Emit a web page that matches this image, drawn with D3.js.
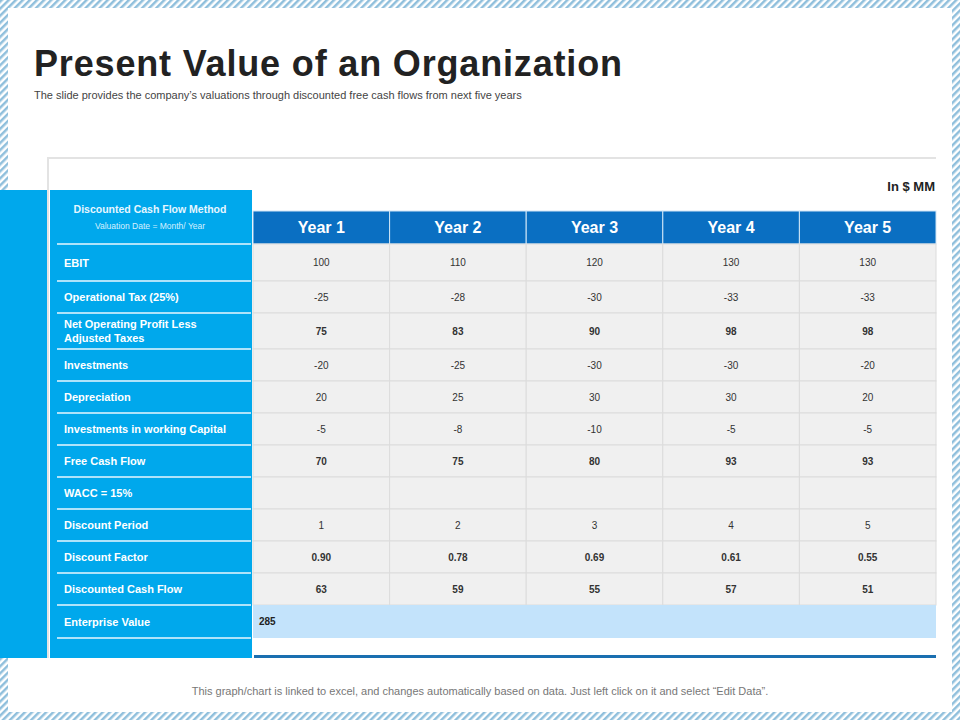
<!DOCTYPE html><html><head><meta charset="utf-8"><script src="https://cdn.jsdelivr.net/npm/d3@7"></script>
<style>body{margin:0}svg{font-family:"Liberation Sans",Arial,sans-serif}</style></head><body><svg width="960" height="720"></svg>
<script>
const years=["Year 1","Year 2","Year 3","Year 4","Year 5"];
const rowLabels=[["EBIT"],["Operational Tax (25%)"],["Net Operating Profit Less","Adjusted Taxes"],["Investments"],["Depreciation"],["Investments in working Capital"],["Free Cash Flow"],["WACC = 15%"],["Discount Period"],["Discount Factor"],["Discounted Cash Flow"],["Enterprise Value"]];
const ebit=["100","110","120","130","130"];
const tax=["-25","-28","-30","-33","-33"];
const nopat=["75","83","90","98","98"];
const investments=["-20","-25","-30","-30","-20"];
const depreciation=["20","25","30","30","20"];
const workingCap=["-5","-8","-10","-5","-5"];
const fcf=["70","75","80","93","93"];
const wacc=["","","","",""];
const period=["1","2","3","4","5"];
const factor=["0.90","0.78","0.69","0.61","0.55"];
const dcf=["63","59","55","57","51"];
const enterpriseValue="285";
const rowsData=[ebit,tax,nopat,investments,depreciation,workingCap,fcf,wacc,period,factor,dcf];
const boldRows=[2,6,9,10];
const rowEdges=[244,281,313,349,381,413,445,477,509,541,573,605,638];
const svg=d3.select("svg");
const defs=svg.append("defs");
const p=defs.append("pattern").attr("id","h").attr("width",5).attr("height",5).attr("patternUnits","userSpaceOnUse").attr("patternTransform","rotate(45)");
p.append("rect").attr("width",5).attr("height",5).attr("fill","#fff");
p.append("rect").attr("width",2.5).attr("height",5).attr("fill","#8fbfdc");
svg.append("rect").attr("width",960).attr("height",720).attr("fill","url(#h)");
svg.append("rect").attr("x",8).attr("y",8).attr("width",944).attr("height",704).attr("fill","#fff");
svg.append("text").attr("x",34).attr("y",76).attr("font-size",36).attr("font-weight","bold").attr("fill","#222").attr("textLength",588).attr("lengthAdjust","spacing").text("Present Value of an Organization");
svg.append("text").attr("x",34).attr("y",99).attr("font-size",11).attr("fill","#444").text("The slide provides the company’s valuations through discounted free cash flows from next five years");
svg.append("text").attr("x",480).attr("y",695).attr("text-anchor","middle").attr("font-size",11).attr("fill","#777").text("This graph/chart is linked to excel,  and changes automatically based on data. Just left click on it and select “Edit Data”.");
svg.append("path").attr("d","M48,658V158H936").attr("fill","none").attr("stroke","#e3e3e3").attr("stroke-width",2);
svg.append("text").attr("x",935).attr("y",191).attr("text-anchor","end").attr("font-size",13).attr("font-weight","bold").attr("fill","#222").text("In $ MM");
svg.append("rect").attr("x",0).attr("y",190).attr("width",47).attr("height",468).attr("fill","#00a8ec");
svg.append("rect").attr("x",50).attr("y",190).attr("width",202).attr("height",468).attr("fill","#00a8ec");
svg.append("text").attr("x",150).attr("y",213).attr("text-anchor","middle").attr("font-size",10.5).attr("font-weight","bold").attr("fill","#e6f6ff").text("Discounted Cash Flow Method");
svg.append("text").attr("x",150).attr("y",229).attr("text-anchor","middle").attr("font-size",8.5).attr("fill","#d6f0ff").text("Valuation Date =  Month/ Year");
const x=d3.scaleBand().domain(years).range([253,936]);
const hg=svg.append("g");
hg.selectAll("rect").data(years).join("rect").attr("x",d=>x(d)).attr("y",211).attr("width",x.bandwidth()).attr("height",33).attr("fill","#0a6fc2").attr("stroke","#cfe6f7").attr("stroke-width",1);
hg.selectAll("text").data(years).join("text").attr("x",d=>x(d)+x.bandwidth()/2).attr("y",233).attr("text-anchor","middle").attr("font-size",16).attr("font-weight","bold").attr("fill","#fff").text(d=>d);
rowsData.forEach((vals,i)=>{
  const y0=rowEdges[i],h=rowEdges[i+1]-y0;
  const g=svg.append("g");
  g.selectAll("rect").data(years).join("rect").attr("x",d=>x(d)).attr("y",y0).attr("width",x.bandwidth()).attr("height",h).attr("fill","#f0f0f0").attr("stroke","#dcdcdc");
  g.selectAll("text").data(vals).join("text").attr("x",(d,j)=>x(years[j])+x.bandwidth()/2).attr("y",y0+h/2+3.5).attr("text-anchor","middle").attr("font-size",10).attr("font-weight",boldRows.includes(i)?"bold":"normal").attr("fill","#333").text(d=>d);
});
svg.append("rect").attr("x",253).attr("y",605).attr("width",683).attr("height",33).attr("fill","#c3e3fb");
svg.append("text").attr("x",259).attr("y",625).attr("font-size",10).attr("font-weight","bold").attr("fill","#222").text(enterpriseValue);
svg.append("rect").attr("x",254).attr("y",655).attr("width",682).attr("height",3).attr("fill","#1a6fb0");
rowLabels.forEach((l,i)=>{
  const y0=rowEdges[i],h=rowEdges[i+1]-y0;
  svg.append("line").attr("x1",57).attr("x2",251).attr("y1",y0).attr("y2",y0).attr("stroke","#e8f7ff").attr("stroke-width",1.5);
  l.forEach((t,k)=>svg.append("text").attr("x",64).attr("y",y0+h/2+4+(k-(l.length-1)/2)*14).attr("font-size",11).attr("font-weight","bold").attr("fill","#fff").text(t));
});
svg.append("line").attr("x1",57).attr("x2",251).attr("y1",638).attr("y2",638).attr("stroke","#e8f7ff").attr("stroke-width",1.5);
</script></body></html>
